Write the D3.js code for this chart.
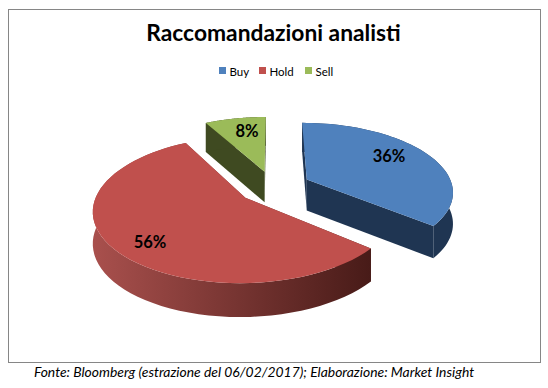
<!DOCTYPE html>
<html>
<head>
<meta charset="utf-8">
<script src="https://cdn.jsdelivr.net/npm/d3@7"></script>
<style>
  html, body { margin: 0; padding: 0; background: #fff; }
  svg { display: block; }
  text { font-family: Lato, "Open Sans", sans-serif; fill: #000; }
</style>
</head>
<body>
<div id="chart"></div>
<script>
const categories = ["Buy", "Hold", "Sell"];
const shares = [36, 56, 8];
const colors = ["#4f81bd", "#c0504d", "#9bbb59"];
const wallColors = ["#1f3552", "url(#holdWall)", "#3f4a21"];

const width = 548, height = 388;

// ground plane -> screen, a simple perspective so the pieces lean like the original
const cx = 273, cy = 187, radiusX = 146, radiusY = 68, persp = 0.16;
const explode = [0.26, 0.24, 0.24];

function project(x, y, drop) {
  const s = 1 / (1 - persp * y);
  return [cx + radiusX * x * s, cy + radiusY * y * s + (drop ? 18 + 13 * s : 0)];
}

const svg = d3.select("#chart").append("svg")
  .attr("width", width)
  .attr("height", height);

svg.append("rect")
  .attr("x", 8.5).attr("y", 9.5)
  .attr("width", 532).attr("height", 353)
  .attr("fill", "#fff")
  .attr("stroke", "#868686");

const grad = svg.append("defs").append("linearGradient")
  .attr("id", "holdWall")
  .attr("gradientUnits", "userSpaceOnUse")
  .attr("x1", 93).attr("x2", 370).attr("y1", 0).attr("y2", 0);
grad.append("stop").attr("offset", 0).attr("stop-color", "#a9504d");
grad.append("stop").attr("offset", 1).attr("stop-color", "#481b18");

svg.append("text")
  .attr("x", 273.5).attr("y", 41)
  .attr("text-anchor", "middle")
  .attr("font-size", 22.8)
  .attr("font-weight", 700)
  .text("Raccomandazioni analisti");

// legend
const legendX = [219, 259, 305];
const legend = svg.append("g").selectAll("g")
  .data(categories)
  .join("g")
  .attr("transform", (d, i) => `translate(${legendX[i]},67)`);
legend.append("rect")
  .attr("width", 7).attr("height", 7)
  .attr("fill", (d, i) => colors[i]);
legend.append("text")
  .attr("x", 10.5).attr("y", 8.5)
  .attr("font-size", 11.5)
  .text(d => d);

const pie = d3.pie().sort(null)(shares);
const line = d3.line();

const labelPos = [[389, 156], [150, 242], [247, 131]];

pie.forEach((slice, i) => {
  const mid = (slice.startAngle + slice.endAngle) / 2;
  const ox = Math.sin(mid) * explode[i], oy = -Math.cos(mid) * explode[i];
  const pt = (a, drop) => project(ox + Math.sin(a), oy - Math.cos(a), drop);
  const centre = drop => project(ox, oy, drop);

  const arcAngles = d3.range(0, 61).map(k =>
    slice.startAngle + (slice.endAngle - slice.startAngle) * k / 60);

  const g = svg.append("g");

  // the two cut walls
  [slice.startAngle, slice.endAngle].forEach(a => {
    g.append("path")
      .attr("d", line([centre(false), pt(a, false), pt(a, true), centre(true)]) + "Z")
      .attr("fill", wallColors[i]);
  });

  // rim
  g.append("path")
    .attr("d", line(arcAngles.map(a => pt(a, false)).concat(arcAngles.slice().reverse().map(a => pt(a, true)))) + "Z")
    .attr("fill", wallColors[i]);

  // top face
  g.append("path")
    .attr("d", line([centre(false)].concat(arcAngles.map(a => pt(a, false)))) + "Z")
    .attr("fill", colors[i]);
});

svg.append("g").selectAll("text")
  .data(shares)
  .join("text")
  .attr("x", (d, i) => labelPos[i][0])
  .attr("y", (d, i) => labelPos[i][1])
  .attr("text-anchor", "middle")
  .attr("dy", "0.35em")
  .attr("font-size", 16.5)
  .attr("font-weight", 700)
  .text(d => d + "%");

svg.append("text")
  .attr("x", 254).attr("y", 377)
  .attr("text-anchor", "middle")
  .attr("font-size", 13.9)
  .attr("font-style", "italic")
  .text("Fonte: Bloomberg (estrazione del 06/02/2017); Elaborazione: Market Insight");
</script>
</body>
</html>
